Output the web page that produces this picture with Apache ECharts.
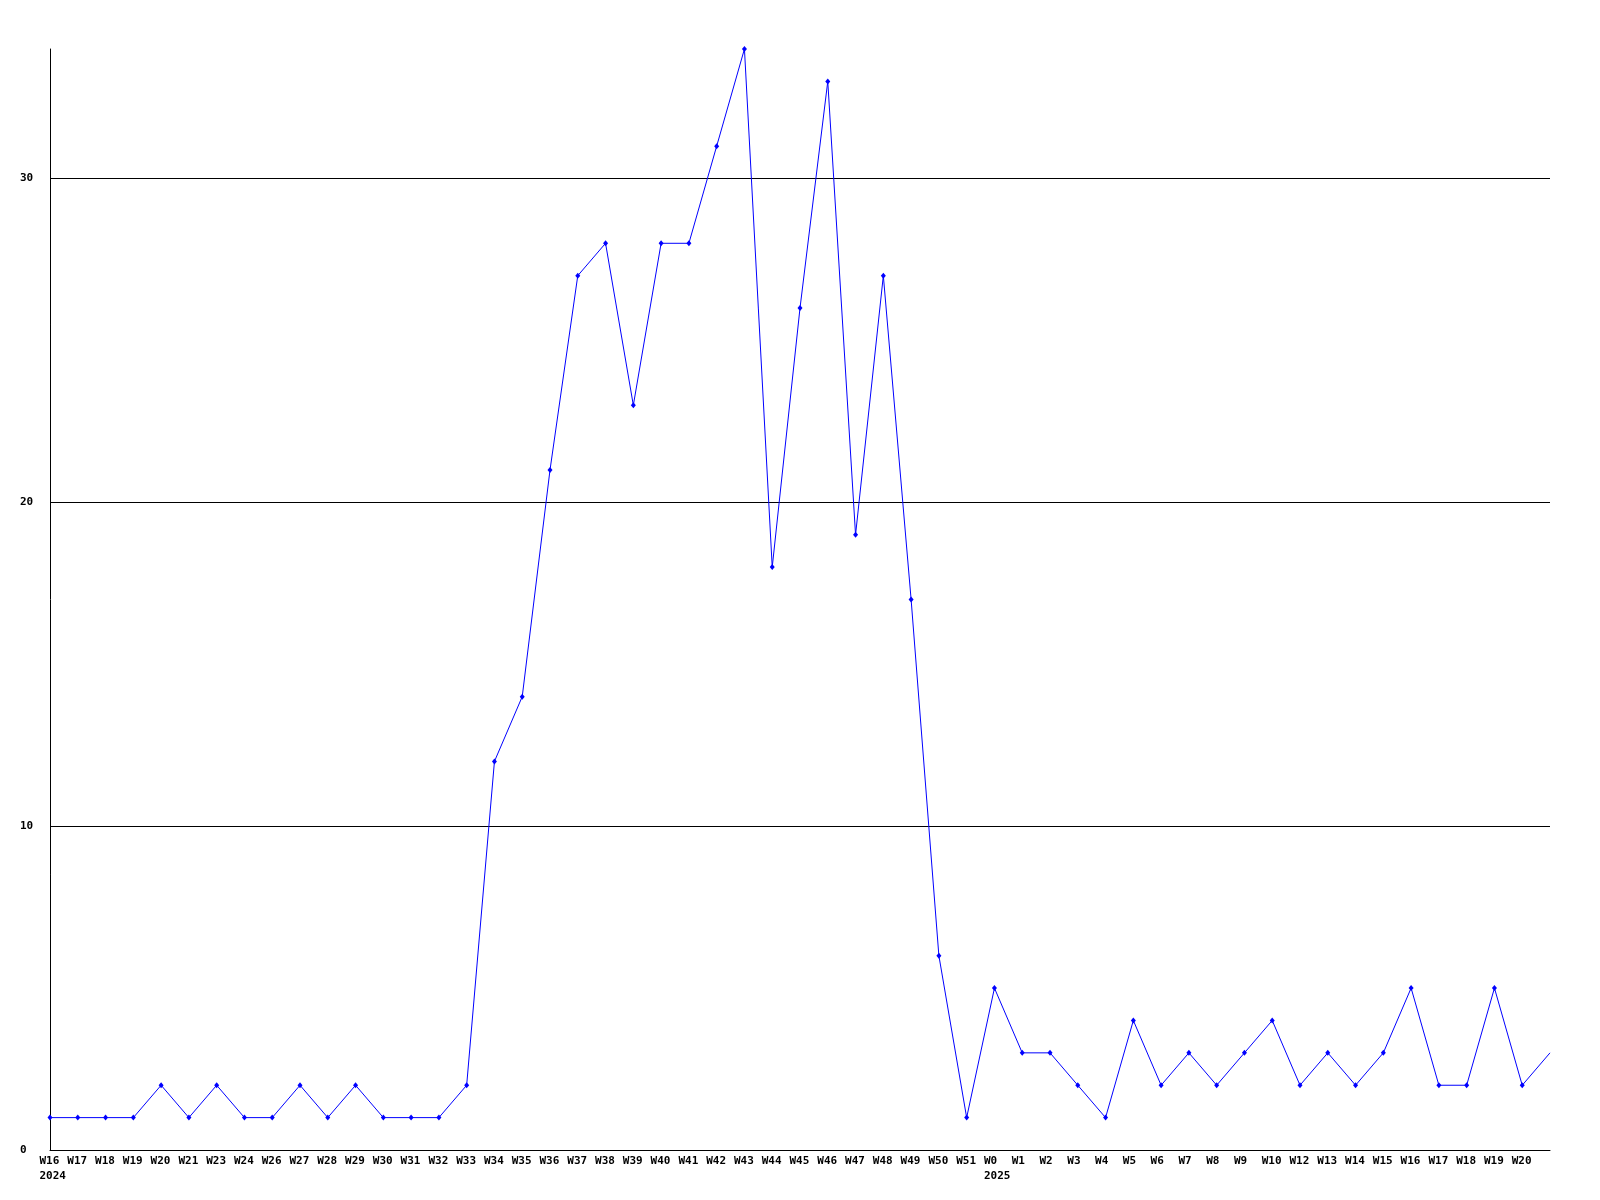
<!DOCTYPE html>
<html>
<head>
<meta charset="utf-8">
<script src="https://cdn.jsdelivr.net/npm/echarts@6/dist/echarts.min.js"></script>
<style>
html,body{margin:0;padding:0;background:#fff;}
#chart{width:1600px;height:1200px;}
</style>
</head>
<body>
<div id="chart"></div>
<script>
// Week labels per year
const weeks2024 = ['W16','W17','W18','W19','W20','W21','W23','W24','W26','W27','W28','W29','W30','W31','W32','W33','W34','W35','W36','W37','W38','W39','W40','W41','W42','W43','W44','W45','W46','W47','W48','W49','W50','W51'];
const weeks2025 = ['W0','W1','W2','W3','W4','W5','W6','W7','W8','W9','W10','W12','W13','W14','W15','W16','W17','W18','W19','W20','W21'];
const yearLabels = ['2024','2025'];
// Values per week
const values2024 = [1,1,1,1,2,1,2,1,1,2,1,2,1,1,1,2,12,14,21,27,28,23,28,28,31,34,18,26,33,19,27,17,6,1];
const values2025 = [5,3,3,2,1,4,2,3,2,3,4,2,3,2,3,5,2,2,5,2,3];
const yTicks = [0,10,20,30];

const categories = weeks2024.concat(weeks2025);
const allValues = values2024.concat(values2025);
const lastIndex = categories.length - 1;
const yearStartIndex = {0: yearLabels[0]};
yearStartIndex[weeks2024.length] = yearLabels[1];

const seriesData = allValues.map(function(v, i){
  if (i === lastIndex) return {value: v, symbol: 'none'};
  return v;
});

const font = '"DejaVu Sans Mono", monospace';
const chart = echarts.init(document.getElementById('chart'), null, {renderer: 'canvas'});
chart.setOption({
  animation: false,
  backgroundColor: '#ffffff',
  grid: {left: 50, right: 50, top: 49, bottom: 50, containLabel: false},
  xAxis: {
    type: 'category',
    data: categories,
    boundaryGap: false,
    axisLine: {show: true, lineStyle: {color: '#000', width: 1}},
    axisTick: {show: false},
    splitLine: {show: false},
    axisLabel: {
      interval: 0,
      margin: 4,
      formatter: function(val, idx){
        if (idx === lastIndex) return '';
        let s = '{a|' + val + '}';
        if (yearStartIndex[idx] !== undefined) s += '\n{a|' + yearStartIndex[idx] + '}';
        return s;
      },
      rich: {
        a: {width: 21, align: 'left', fontFamily: font, fontWeight: 'bold', fontSize: 11, lineHeight: 15, color: '#000'}
      }
    }
  },
  yAxis: {
    type: 'value',
    min: yTicks[0],
    max: 34,
    interval: 10,
    axisLine: {show: true, lineStyle: {color: '#000', width: 1}},
    axisTick: {show: false},
    splitLine: {show: true, showMaxLine: false, lineStyle: {color: '#000', width: 1}},
    axisLabel: {
      show: true,
      showMaxLabel: false,
      align: 'left',
      margin: 30,
      padding: [6, 0, 0, 0],
      fontFamily: font,
      fontWeight: 'bold',
      fontSize: 11,
      color: '#000'
    }
  },
  series: [{
    type: 'line',
    data: seriesData,
    symbol: 'diamond',
    symbolSize: [5, 6],
    showAllSymbol: true,
    lineStyle: {color: '#0000ff', width: 1},
    itemStyle: {color: '#0000ff'},
    silent: true
  }]
});
</script>
</body>
</html>
